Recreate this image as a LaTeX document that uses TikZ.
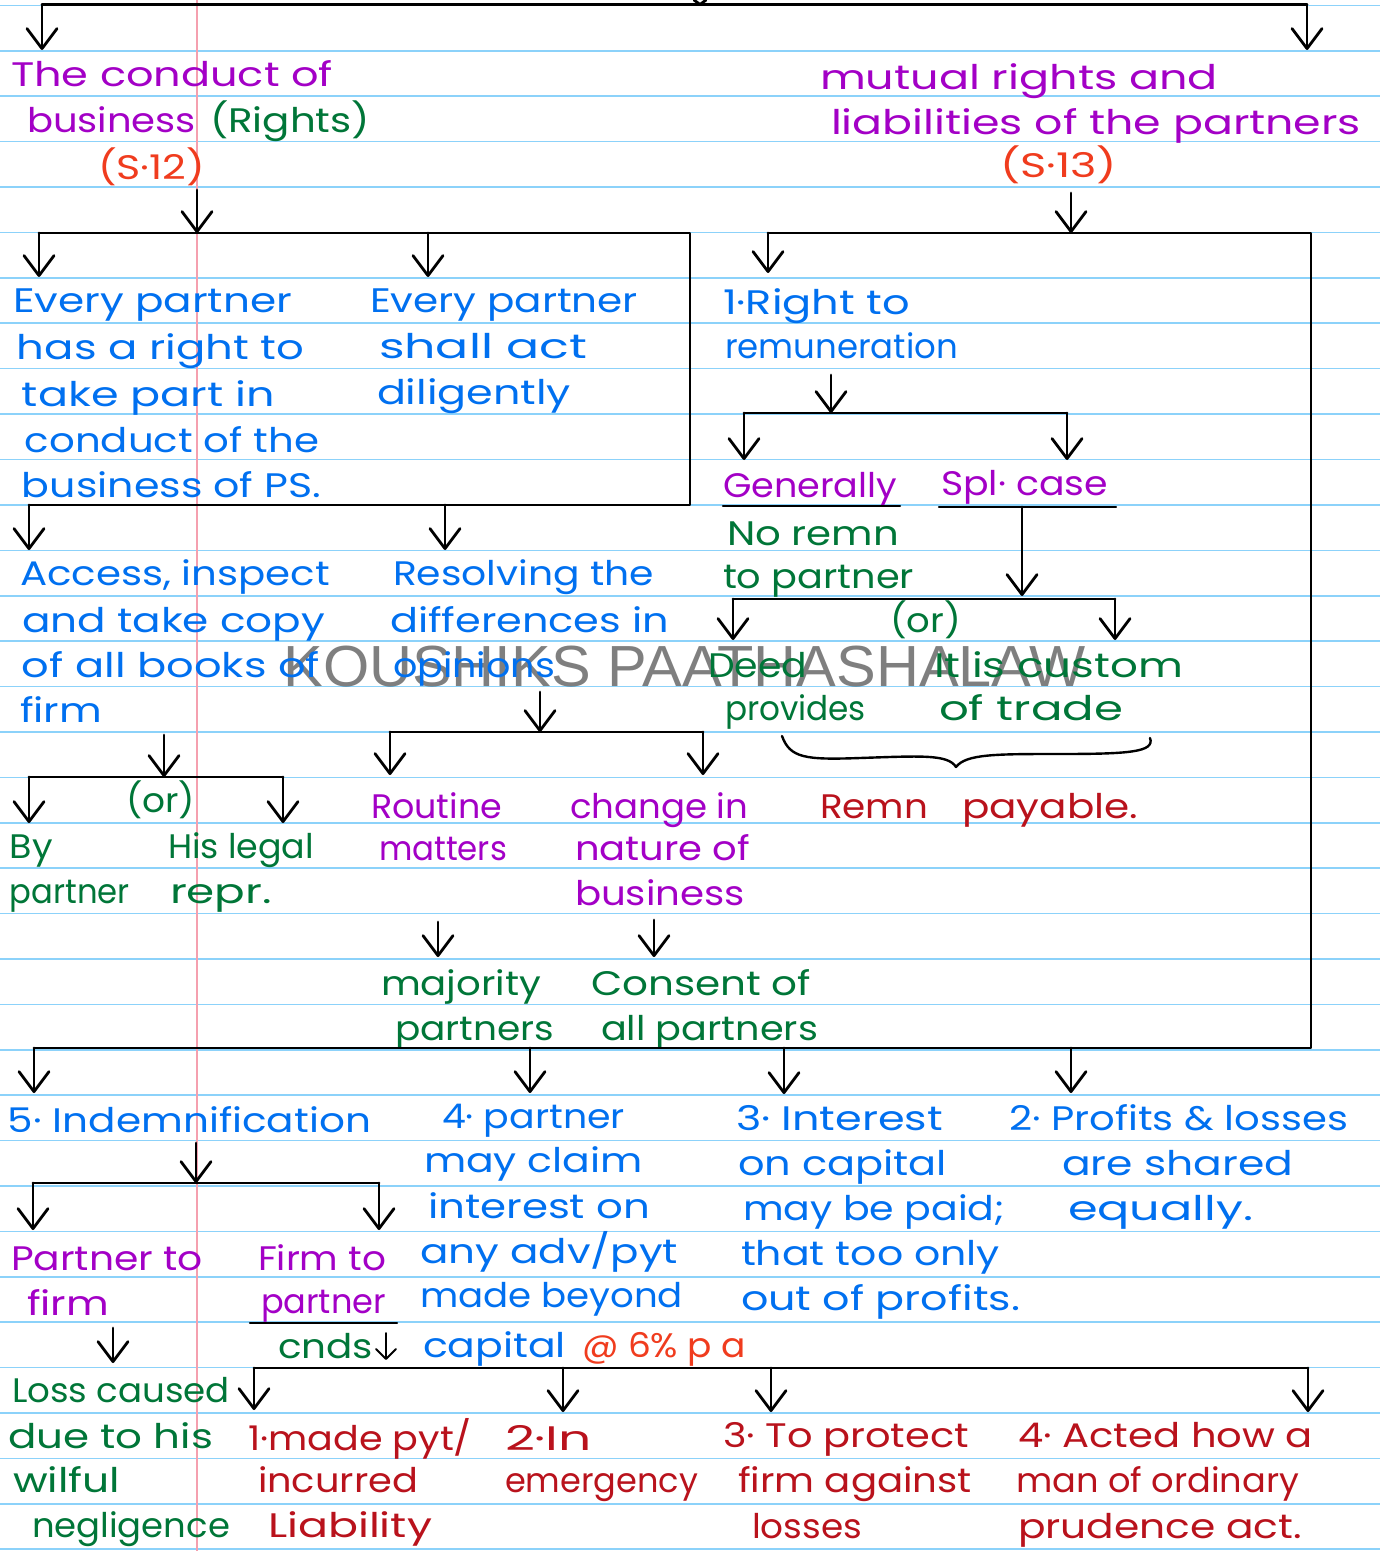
\documentclass[tikz,border=0pt]{standalone}
\usepackage{fontspec}
\usepackage{graphicx}
\usetikzlibrary{arrows.meta}
\newfontfamily\hand{Poppins}
\newfontfamily\wmfont{Liberation Sans}
\definecolor{cpur}{RGB}{163,0,198}
\definecolor{cgrn}{RGB}{0,118,56}
\definecolor{cblu}{RGB}{0,112,240}
\definecolor{corg}{RGB}{240,60,30}
\definecolor{cred}{RGB}{185,18,28}
\definecolor{crule}{RGB}{140,210,250}
\definecolor{cpink}{RGB}{245,160,175}
\newdimen\fwdim
\newcommand\fw[2]{\fwdim=#1pt\relax\fwdim=0.5\fwdim\resizebox{\fwdim}{\height}{#2}}
\newcommand\tx[6]{\node[txt,text=#4] (#1) at (#2,#3) {\fw{#5}{#6}};}
\begin{document}
\begin{tikzpicture}[x=0.5pt,y=-0.5pt,
  txt/.style={anchor=base west,inner sep=0pt,outer sep=0pt,font=\hand\fontsize{17pt}{20pt}\selectfont},
  rule/.style={draw=crule,line width=0.8pt},
  bar/.style={draw=black,line width=1.4pt,line cap=round,line join=round},
  arr/.style={bar,-{Straight Barb[length=10pt,width=15pt,round]}},
  sarr/.style={draw=black,line width=1pt,line cap=round,-{Straight Barb[length=5pt,width=10pt,round]}},
  uline/.style={draw=black,line width=1.2pt,line cap=round}]
\useasboundingbox (0,0) rectangle (1380,1551);
\fill[white] (0,0) rectangle (1380,1551);
\foreach \k in {0,...,34} \draw[rule] (0,{5.5+45.4*\k}) -- (1380,{5.5+45.4*\k});
\draw[draw=cpink,line width=0.7pt] (197,0) -- (197,1551);
\node[anchor=base west,inner sep=0pt,text=black,opacity=0.5,font=\wmfont\fontsize{29pt}{30pt}\selectfont] (wm) at (283,686) {\fw{802}{KOUSHIKS PAATHASHALAW}};

% ---------- top ----------
\coordinate (topstub) at (700,4.5);
\draw[bar] (694,0) -- (topstub) -- (706,0);
\coordinate (tl) at (42,4.5); \coordinate (tr) at (1307,4.5);
\coordinate (tlA) at (42,50); \coordinate (trA) at (1307,50);
\draw[bar] (tl) -- (tr);
\draw[arr] (tl) -- (tlA);
\draw[arr] (tr) -- (trA);

\tx{t1}{11}{87}{cpur}{322}{The conduct of}
\tx{t2}{27}{133}{cpur}{169}{business}
\tx{t3}{210}{133}{cgrn}{160}{(Rights)}
\tx{t4}{98}{180}{corg}{107}{(S·12)}
\tx{m1}{820}{90}{cpur}{398}{mutual rights and}
\tx{m2}{831}{135}{cpur}{530}{liabilities of the partners}
\tx{m3}{1000}{178}{corg}{117}{(S·13)}

% ---------- left box ----------
\coordinate (a1s) at (197,190); \coordinate (b1M) at (197,233);
\coordinate (b1L) at (39,233); \coordinate (b1R) at (690,233);
\coordinate (b1BR) at (690,505); \coordinate (b2L) at (29,505);
\draw[arr] (a1s) -- (b1M);
\draw[bar] (b1L) -- (b1R) -- (b1BR) -- (b2L);
\coordinate (a2e) at (39,277); \draw[arr] (b1L) -- (a2e);
\coordinate (a3s) at (428,233); \coordinate (a3e) at (428,277); \draw[arr] (a3s) -- (a3e);

\tx{e1}{13}{313}{cblu}{279}{Every partner}
\tx{e2}{17}{360}{cblu}{287}{has a right to}
\tx{e3}{22}{407}{cblu}{253}{take part in}
\tx{e4}{25}{452}{cblu}{294}{conduct of the}
\tx{e5}{22}{497}{cblu}{299}{business of PS.}
\tx{d1}{370}{313}{cblu}{268}{Every partner}
\tx{d2}{379}{358}{cblu}{208}{shall act}
\tx{d3}{377}{404}{cblu}{194}{diligently}

\coordinate (a4e) at (29,550); \draw[arr] (b2L) -- (a4e);
\coordinate (a5s) at (445,505); \coordinate (a5e) at (445,550); \draw[arr] (a5s) -- (a5e);

\tx{c1}{20}{585}{cblu}{310}{Access, inspect}
\tx{c2}{22}{632}{cblu}{303}{and take copy}
\tx{c3}{22}{677}{cblu}{298}{of all books of}
\tx{c4}{20}{722}{cblu}{82}{firm}
\tx{r1}{393}{585}{cblu}{261}{Resolving the}
\tx{r2}{390}{632}{cblu}{279}{differences in}
\tx{r3}{393}{677}{cblu}{162}{opinions}

% access -> (or)
\coordinate (a6s) at (164,735); \coordinate (b4M) at (164,777);
\coordinate (b4L) at (29,777); \coordinate (b4R) at (283,777);
\draw[arr] (a6s) -- (b4M);
\draw[bar] (b4L) -- (b4R);
\coordinate (a7e) at (29,823); \coordinate (a8e) at (283,823);
\draw[arr] (b4L) -- (a7e); \draw[arr] (b4R) -- (a8e);
\tx{o1}{126}{812}{cgrn}{69}{(or)}
\tx{o2}{10}{858}{cgrn}{43}{By}
\tx{o3}{10}{903}{cgrn}{120}{partner}
\tx{o4}{168}{858}{cgrn}{146}{His legal}
\tx{o5}{170}{903}{cgrn}{102}{repr.}

% resolving -> routine / change
\coordinate (a9s) at (540,692); \coordinate (b5M) at (540,732);
\coordinate (b5L) at (390,732); \coordinate (b5R) at (703,732);
\draw[arr] (a9s) -- (b5M);
\draw[bar] (b5L) -- (b5R);
\coordinate (a10e) at (390,775); \coordinate (a11e) at (703,775);
\draw[arr] (b5L) -- (a10e); \draw[arr] (b5R) -- (a11e);
\tx{p1}{371}{818}{cpur}{131}{Routine}
\tx{p2}{379}{860}{cpur}{128}{matters}
\tx{q1}{570}{818}{cpur}{178}{change in}
\tx{q2}{575}{860}{cpur}{175}{nature of}
\tx{q3}{575}{905}{cpur}{170}{business}
\coordinate (a12s) at (438,922); \coordinate (a12e) at (438,957); \draw[arr] (a12s) -- (a12e);
\coordinate (a13s) at (654,920); \coordinate (a13e) at (654,957); \draw[arr] (a13s) -- (a13e);
\tx{j1}{381}{995}{cgrn}{160}{majority}
\tx{j2}{395}{1040}{cgrn}{159}{partners}
\tx{k1}{591}{995}{cgrn}{220}{Consent of}
\tx{k2}{601}{1040}{cgrn}{217}{all partners}

% ---------- right box ----------
\coordinate (a14s) at (1071,193); \coordinate (b6M) at (1071,233);
\coordinate (b6L) at (768,233); \coordinate (b6R) at (1311,233);
\coordinate (b6BR) at (1311,1048); \coordinate (b7L) at (34,1048);
\draw[arr] (a14s) -- (b6M);
\draw[bar] (b6L) -- (b6R) -- (b6BR) -- (b7L);
\coordinate (a15e) at (768,273); \draw[arr] (b6L) -- (a15e);
\tx{g1}{723}{315}{cblu}{187}{1·Right to}
\tx{g2}{725}{358}{cblu}{233}{remuneration}
\coordinate (a16s) at (831,375); \coordinate (b8M) at (831,413);
\coordinate (b8L) at (744,413); \coordinate (b8R) at (1067,413);
\draw[arr] (a16s) -- (b8M);
\draw[bar] (b8L) -- (b8R);
\coordinate (a17e) at (744,460); \coordinate (a18e) at (1067,460);
\draw[arr] (b8L) -- (a17e); \draw[arr] (b8R) -- (a18e);
\tx{h1}{723}{497}{cpur}{174}{Generally}
\tx{h2}{941}{495}{cpur}{167}{Spl· case}
\coordinate (u1a) at (723,506); \coordinate (u1b) at (900,506);
\draw[uline] (u1a) -- (u1b);
\coordinate (u2a) at (939,507); \coordinate (u2b) at (1116,507);
\draw[uline] (u2a) -- (u2b);
\coordinate (a19s) at (1022,507); \coordinate (a19e) at (1022,596);
\draw[arr] (a19s) -- (a19e);
\tx{h3}{727}{545}{cgrn}{172}{No remn}
\tx{h4}{723}{588}{cgrn}{191}{to partner}
\coordinate (b9L) at (733,599); \coordinate (b9R) at (1115,599);
\draw[bar] (b9L) -- (b9R);
\coordinate (a20e) at (733,640); \coordinate (a21e) at (1115,640);
\draw[arr] (b9L) -- (a20e); \draw[arr] (b9R) -- (a21e);
\tx{i1}{890}{632}{cgrn}{71}{(or)}
\tx{i2}{708}{677}{cgrn}{99}{Deed}
\tx{i3}{725}{720}{cgrn}{141}{provides}
\tx{i4}{934}{677}{cgrn}{249}{It is custom}
\tx{i5}{939}{720}{cgrn}{184}{of trade}
\draw[bar,line width=1.2pt] (782,736) .. controls (790,758) and (805,760) .. (860,758)
  .. controls (920,756) and (948,754) .. (956,767)
  .. controls (966,754) and (995,754) .. (1060,754)
  .. controls (1130,754) and (1155,752) .. (1150,738);
\tx{i6}{820}{818}{cred}{108}{Remn}
\tx{i7}{962}{818}{cred}{176}{payable.}

% ---------- bottom row 1 ----------
\coordinate (a22e) at (34,1093); \draw[arr] (b7L) -- (a22e);
\coordinate (a23s) at (530,1048); \coordinate (a23e) at (530,1093); \draw[arr] (a23s) -- (a23e);
\coordinate (a24s) at (784,1048); \coordinate (a24e) at (784,1094); \draw[arr] (a24s) -- (a24e);
\coordinate (a25s) at (1071,1048); \coordinate (a25e) at (1071,1093); \draw[arr] (a25s) -- (a25e);

\tx{n1}{8}{1132}{cblu}{363}{5· Indemnification}
\coordinate (a26s) at (196,1143); \coordinate (b10M) at (196,1183);
\coordinate (b10L) at (33,1183); \coordinate (b10R) at (379,1183);
\draw[arr] (a26s) -- (b10M);
\draw[bar] (b10L) -- (b10R);
\coordinate (a27e) at (33,1230); \coordinate (a28e) at (379,1230);
\draw[arr] (b10L) -- (a27e); \draw[arr] (b10R) -- (a28e);
\tx{n2}{11}{1270}{cpur}{192}{Partner to}
\tx{n3}{27}{1315}{cpur}{82}{firm}
\tx{n4}{258}{1270}{cpur}{128}{Firm to}
\tx{n5}{261}{1313}{cpur}{125}{partner}
\coordinate (u3a) at (250,1323); \coordinate (u3b) at (397,1323);
\draw[uline] (u3a) -- (u3b);
\coordinate (a29s) at (113,1328); \coordinate (a29e) at (113,1363); \draw[arr] (a29s) -- (a29e);
\tx{n6}{12}{1402}{cgrn}{218}{Loss caused}
\tx{n7}{8}{1448}{cgrn}{205}{due to his}
\tx{n8}{13}{1492}{cgrn}{107}{wilful}
\tx{n9}{32}{1537}{cgrn}{198}{negligence}
\tx{n10}{278}{1358}{cgrn}{95}{cnds}
\coordinate (a30s) at (386,1333); \coordinate (a30e) at (386,1360); \draw[sarr] (a30s) -- (a30e);

\tx{w1}{442}{1128}{cblu}{183}{4· partner}
\tx{w2}{424}{1172}{cblu}{219}{may claim}
\tx{w3}{428}{1218}{cblu}{222}{interest on}
\tx{w4}{420}{1263}{cblu}{258}{any adv/pyt}
\tx{w5}{420}{1307}{cblu}{263}{made beyond}
\tx{w6}{423}{1357}{cblu}{143}{capital}
\tx{w7}{582}{1357}{corg}{164}{@ 6\% p a}

\tx{v1}{736}{1130}{cblu}{207}{3· Interest}
\tx{v2}{738}{1175}{cblu}{209}{on capital}
\tx{v3}{743}{1220}{cblu}{262}{may be paid;}
\tx{v4}{741}{1265}{cblu}{259}{that too only}
\tx{v5}{741}{1310}{cblu}{279}{out of profits.}

\tx{s1}{1009}{1130}{cblu}{339}{2· Profits \& losses}
\tx{s2}{1062}{1175}{cblu}{231}{are shared}
\tx{s3}{1068}{1220}{cblu}{185}{equally.}

% ---------- bottom row 2 ----------
\coordinate (b11L) at (254,1368); \coordinate (b11R) at (1308,1368);
\draw[bar] (b11L) -- (b11R);
\coordinate (a31e) at (254,1410); \draw[arr] (b11L) -- (a31e);
\coordinate (a32s) at (563,1368); \coordinate (a32e) at (563,1412); \draw[arr] (a32s) -- (a32e);
\coordinate (a33s) at (771,1368); \coordinate (a33e) at (771,1412); \draw[arr] (a33s) -- (a33e);
\coordinate (a34e) at (1308,1412); \draw[arr] (b11R) -- (a34e);

\tx{z1}{248}{1450}{cred}{224}{1·made pyt/}
\tx{z2}{258}{1492}{cred}{160}{incurred}
\tx{z3}{268}{1537}{cred}{164}{Liability}
\tx{z4}{505}{1450}{cred}{87}{2·In}
\tx{z5}{505}{1492}{cred}{193}{emergency}
\tx{z6}{723}{1447}{cred}{246}{3· To protect}
\tx{z7}{738}{1492}{cred}{234}{firm against}
\tx{z8}{752}{1538}{cred}{110}{losses}
\tx{z9}{1018}{1447}{cred}{295}{4· Acted how a}
\tx{z10}{1016}{1492}{cred}{283}{man of ordinary}
\tx{z11}{1018}{1538}{cred}{284}{prudence act.}
\end{tikzpicture}
\end{document}
